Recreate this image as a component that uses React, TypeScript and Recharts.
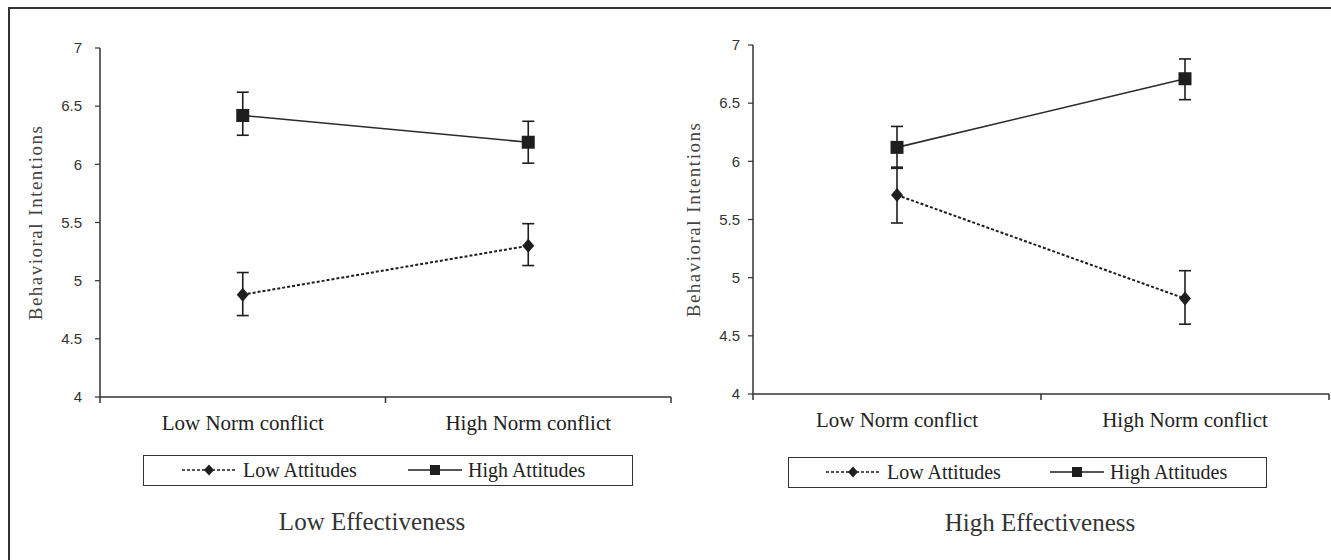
import React from 'react';
import { ComposedChart, Line, XAxis, YAxis, ErrorBar } from 'recharts';

const categories = ['Low Norm conflict', 'High Norm conflict'];
const yTicks = [4, 4.5, 5, 5.5, 6, 6.5, 7];
const seriesNames = ['Low Attitudes', 'High Attitudes'];
const panelTitles = ['Low Effectiveness', 'High Effectiveness'];
const yAxisTitle = 'Behavioral Intentions';

// Left panel (Low Effectiveness)
const leftLowMean = [4.88, 5.3];
const leftLowUpper = [5.07, 5.49];
const leftLowLower = [4.7, 5.13];
const leftHighMean = [6.42, 6.19];
const leftHighUpper = [6.62, 6.37];
const leftHighLower = [6.25, 6.01];

// Right panel (High Effectiveness)
const rightLowMean = [5.71, 4.82];
const rightLowUpper = [5.94, 5.06];
const rightLowLower = [5.47, 4.6];
const rightHighMean = [6.12, 6.71];
const rightHighUpper = [6.3, 6.88];
const rightHighLower = [5.95, 6.53];

function buildRows(
  lowMean: number[], lowUpper: number[], lowLower: number[],
  highMean: number[], highUpper: number[], highLower: number[]
) {
  return categories.map((c, i) => ({
    category: c,
    low: lowMean[i],
    lowErr: [lowMean[i] - lowLower[i], lowUpper[i] - lowMean[i]],
    high: highMean[i],
    highErr: [highMean[i] - highLower[i], highUpper[i] - highMean[i]],
  }));
}

const leftRows = buildRows(leftLowMean, leftLowUpper, leftLowLower, leftHighMean, leftHighUpper, leftHighLower);
const rightRows = buildRows(rightLowMean, rightLowUpper, rightLowLower, rightHighMean, rightHighUpper, rightHighLower);

const INK = '#1e1e1e';
const SERIF = '"Liberation Serif", "Times New Roman", serif';
const SANS = '"Liberation Sans", Arial, sans-serif';

const Diamond = (props: any) => {
  const { cx, cy } = props;
  if (cx == null || cy == null) return null;
  return (
    <polygon
      points={`${cx},${cy - 7} ${cx + 6},${cy} ${cx},${cy + 7} ${cx - 6},${cy}`}
      fill={INK}
    />
  );
};

const Square = (props: any) => {
  const { cx, cy } = props;
  if (cx == null || cy == null) return null;
  return <rect x={cx - 6.5} y={cy - 6.5} width={13} height={13} fill={INK} />;
};

const makeXTick = (halfBand: number) => (props: any) => {
  const { x, y, payload, index } = props;
  const off = halfBand;
  const last = index === categories.length - 1;
  return (
    <g>
      <line x1={x - off} x2={x - off} y1={y - 6} y2={y} stroke="#333" strokeWidth={1.5} />
      {last && <line x1={x + off} x2={x + off} y1={y - 6} y2={y} stroke="#333" strokeWidth={1.5} />}
      <text x={x} y={y + 27} textAnchor="middle" fontFamily={SERIF} fontSize={21} fill="#222">
        {payload.value}
      </text>
    </g>
  );
};

const YTitle = (props: any) => {
  const { viewBox, shift } = props;
  if (!viewBox) return null;
  const cx = viewBox.x + shift;
  const cy = viewBox.y + viewBox.height / 2;
  return (
    <text
      x={cx}
      y={cy}
      transform={`rotate(-90, ${cx}, ${cy})`}
      textAnchor="middle"
      dominantBaseline="central"
      fontFamily={SERIF}
      fontSize={19}
      letterSpacing={1.5}
      fill="#444"
    >
      {yAxisTitle}
    </text>
  );
};

type PanelProps = {
  rows: any[];
  left: number;
  width: number;
  margin: { top: number; right: number; bottom: number; left: number };
  titleShift: number;
  tickGap: number;
};

const Panel = ({ rows, left, width, margin, titleShift, tickGap }: PanelProps) => {
  const plotWidth = width - margin.left - margin.right - 60;
  const halfBand = plotWidth / 4;
  return (
    <div style={{ position: 'absolute', left, top: 0 }}>
      <ComposedChart width={width} height={560} data={rows} margin={margin}>
        <XAxis
          dataKey="category"
          height={40}
          scale="point"
          padding={{ left: halfBand, right: halfBand }}
          tickSize={6}
          tickMargin={0}
          tickLine={false}
          axisLine={{ stroke: '#333', strokeWidth: 1.5 }}
          tick={makeXTick(halfBand)}
          interval={0}
        />
        <YAxis
          width={60}
          domain={[4, 7]}
          ticks={yTicks}
          interval={0}
          tickSize={5}
          tickMargin={tickGap}
          axisLine={{ stroke: '#333', strokeWidth: 1.5 }}
          tickLine={{ stroke: '#333', strokeWidth: 1.2 }}
          tick={{ fontFamily: SANS, fontSize: 15, fill: '#333' }}
          label={<YTitle shift={titleShift} />}
        />
        <Line
          dataKey="low"
          name={seriesNames[0]}
          stroke={INK}
          strokeWidth={2}
          strokeDasharray="3 2"
          dot={<Diamond />}
          activeDot={false}
          isAnimationActive={false}
        >
          <ErrorBar dataKey="lowErr" direction="y" width={6} stroke={INK} strokeWidth={1.6} />
        </Line>
        <Line
          dataKey="high"
          name={seriesNames[1]}
          stroke="#2a2a2a"
          strokeWidth={1.6}
          dot={<Square />}
          activeDot={false}
          isAnimationActive={false}
        >
          <ErrorBar dataKey="highErr" direction="y" width={6} stroke={INK} strokeWidth={1.6} />
        </Line>
      </ComposedChart>
    </div>
  );
};

const LegendBox = ({ left, top, width, icon1, text1, icon2, text2 }: any) => (
  <div
    style={{
      position: 'absolute',
      left,
      top,
      width,
      height: 31,
      border: '1.5px solid #333',
      boxSizing: 'border-box',
      fontFamily: SERIF,
      fontSize: 20,
      color: '#222',
    }}
  >
    <svg style={{ position: 'absolute', left: icon1, top: 7 }} width={54} height={14}>
      <line x1={0} x2={54} y1={7} y2={7} stroke={INK} strokeWidth={1.5} strokeDasharray="3 2" />
      <polygon points="27,1.5 32,7 27,12.5 22,7" fill={INK} />
    </svg>
    <span style={{ position: 'absolute', left: text1, top: 2, lineHeight: '24px', whiteSpace: 'nowrap' }}>
      {seriesNames[0]}
    </span>
    <svg style={{ position: 'absolute', left: icon2, top: 7 }} width={54} height={14}>
      <line x1={0} x2={54} y1={7} y2={7} stroke={INK} strokeWidth={1.6} />
      <rect x={22} y={2} width={10} height={10} fill={INK} />
    </svg>
    <span style={{ position: 'absolute', left: text2, top: 2, lineHeight: '24px', whiteSpace: 'nowrap' }}>
      {seriesNames[1]}
    </span>
  </div>
);

export default function App() {
  return (
    <div
      style={{
        position: 'absolute',
        left: 0,
        top: 0,
        width: 1331,
        height: 560,
        background: '#fff',
        overflow: 'hidden',
      }}
    >
      <div style={{ position: 'absolute', left: 8, top: 7, width: 1323, height: 2, background: '#333' }} />
      <div style={{ position: 'absolute', left: 8, top: 7, width: 2, height: 553, background: '#333' }} />

      <Panel rows={leftRows} left={0} width={680} margin={{ top: 48, right: 9, bottom: 123, left: 40 }} titleShift={-5} tickGap={13} />
      <Panel rows={rightRows} left={660} width={671} margin={{ top: 45, right: 2, bottom: 126, left: 33 }} titleShift={0} tickGap={8} />

      <LegendBox left={143} top={455} width={490} icon1={38} text1={99} icon2={264} text2={324} />
      <LegendBox left={788} top={457} width={479} icon1={37} text1={98} icon2={261} text2={321} />

      <div
        style={{
          position: 'absolute',
          left: 222,
          top: 507,
          width: 300,
          textAlign: 'center',
          fontFamily: SERIF,
          fontSize: 25,
          lineHeight: '30px',
          color: '#333',
        }}
      >
        {panelTitles[0]}
      </div>
      <div
        style={{
          position: 'absolute',
          left: 890,
          top: 508,
          width: 300,
          textAlign: 'center',
          fontFamily: SERIF,
          fontSize: 25,
          lineHeight: '30px',
          color: '#333',
        }}
      >
        {panelTitles[1]}
      </div>
    </div>
  );
}
